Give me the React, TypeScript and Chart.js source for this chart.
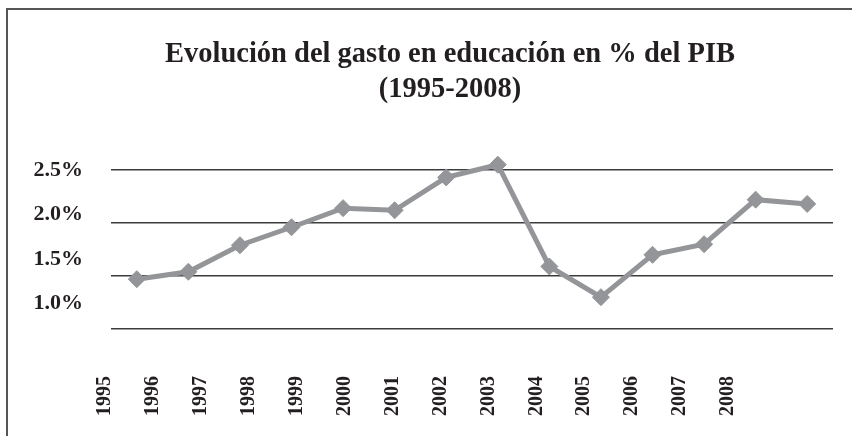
import React, { useEffect, useRef } from "react";
import { Chart, registerables } from "chart.js";

Chart.register(...registerables);

// ---- Data ----
const years = ["1995", "1996", "1997", "1998", "1999", "2000", "2001", "2002", "2003", "2004", "2005", "2006", "2007", "2008"];
const gastoPIB = [1.47, 1.54, 1.79, 1.96, 2.14, 2.12, 2.43, 2.55, 1.59, 1.3, 1.7, 1.8, 2.22, 2.18];
const gridValues = [1.0, 1.5, 2.0, 2.5];
const yTickLabels = [1.0, 1.5, 2.0, 2.5];
const titleLines = ["Evolución del gasto en educación en % del PIB", "(1995-2008)"];

const SERIF = "'Liberation Serif', 'Times New Roman', Times, serif";
const TEXT = "#231f20";

export default function App() {
  const ref = useRef<HTMLCanvasElement | null>(null);

  useEffect(() => {
    if (!ref.current) return;
    const chart = new Chart(ref.current, {
      type: "line",
      data: {
        labels: years,
        datasets: [
          {
            label: "Gasto en educación (% PIB)",
            data: gastoPIB,
            xAxisID: "x",
            yAxisID: "y",
            borderColor: "#939598",
            backgroundColor: "#939598",
            borderWidth: 5,
            pointStyle: "rectRot",
            pointRadius: 8.5,
            pointBorderWidth: 1,
            pointBackgroundColor: "#939598",
            pointBorderColor: "#939598",
            tension: 0,
            clip: false as any,
          },
        ],
      },
      options: {
        animation: false,
        responsive: true,
        maintainAspectRatio: false,
        layout: { padding: { left: 30, right: -18, top: 38, bottom: 0 } },
        plugins: {
          legend: { display: false },
          tooltip: { enabled: false },
          title: {
            display: true,
            text: titleLines,
            color: TEXT,
            font: { family: SERIF, size: 28.5, weight: "bold", lineHeight: 1.2 },
            padding: { top: 0, bottom: 63.6 },
          },
        },
        scales: {
          x: {
            type: "category",
            offset: true,
            display: false,
          },
          xl: {
            type: "linear",
            position: "bottom",
            min: 0.123,
            max: 15.19,
            afterBuildTicks: (ax: any) => {
              ax.ticks = years.map((_, i) => ({ value: i }));
            },
            afterFit: (s: any) => {
              s.height = 107;
            },
            grid: { display: false, drawTicks: false },
            border: { display: false },
            ticks: {
              autoSkip: false,
              minRotation: 90,
              maxRotation: 90,
              padding: 47,
              color: TEXT,
              font: { family: SERIF, size: 20, weight: "bold" },
              callback: (v: any) => years[Math.round(Number(v))] ?? "",
            },
          },
          y: {
            type: "linear",
            position: "left",
            min: 1.0,
            max: 2.5,
            afterBuildTicks: (ax: any) => {
              ax.ticks = gridValues.map((v) => ({ value: v }));
            },
            afterFit: (s: any) => {
              s.width = 0;
            },
            grid: { color: "#3c3c3c", lineWidth: 1.6, drawTicks: false },
            border: { display: false },
            ticks: { display: false },
          },
          yl: {
            type: "linear",
            position: "left",
            min: 0.71,
            max: 2.5,
            afterBuildTicks: (ax: any) => {
              ax.ticks = yTickLabels.map((v) => ({ value: v }));
            },
            afterFit: (s: any) => {
              s.width = 81;
            },
            grid: { display: false, drawTicks: false },
            border: { display: false },
            ticks: {
              padding: 28,
              color: TEXT,
              font: { family: SERIF, size: 22, weight: "bold" },
              callback: (v: any) => Number(v).toFixed(1) + "%",
            },
          },
          spacer: {
            type: "linear",
            position: "right",
            min: 0,
            max: 1,
            afterFit: (s: any) => {
              s.width = 37;
            },
            grid: { display: false, drawTicks: false },
            border: { display: false },
            ticks: { display: false },
          },
        },
      } as any,
    });
    return () => chart.destroy();
  }, []);

  return (
    <div style={{ position: "fixed", left: 0, top: 0, width: 852, height: 436, background: "#ffffff" }}>
      <canvas ref={ref} />
      <div
        style={{
          position: "absolute",
          left: 6,
          top: 8,
          right: -10,
          bottom: -10,
          borderTop: "2px solid #555555",
          borderLeft: "2px solid #555555",
          pointerEvents: "none",
        }}
      />
    </div>
  );
}
